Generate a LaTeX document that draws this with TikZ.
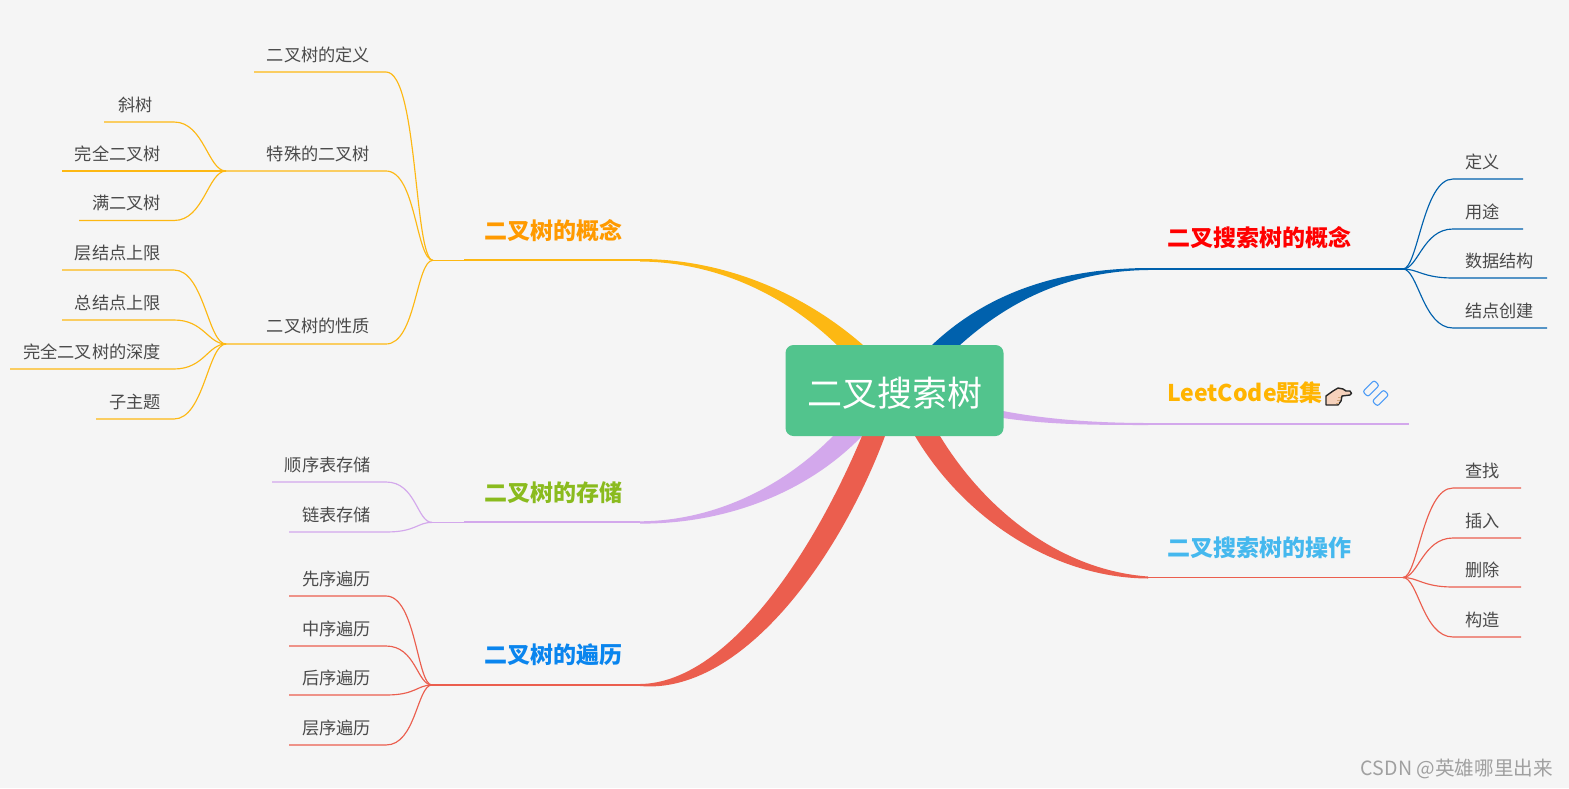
\documentclass[tikz,border=0pt]{standalone}
\usetikzlibrary{calc}
\usepackage{fontspec}
\setmainfont{Noto Sans CJK SC}
\definecolor{bgc}{HTML}{F5F5F5}
\definecolor{yel}{HTML}{FDB813}
\definecolor{blu}{HTML}{0061AD}
\definecolor{pur}{HTML}{D3A8EC}
\definecolor{redb}{HTML}{EB5E4E}
\definecolor{rootc}{HTML}{52C48D}
\definecolor{txt}{HTML}{4A4A4A}
\definecolor{hOrange}{HTML}{FF9A00}
\definecolor{hGreen}{HTML}{8ABB1E}
\definecolor{hBlue}{HTML}{0A85EE}
\definecolor{hRed}{HTML}{FF0000}
\definecolor{hGold}{HTML}{FFB400}
\definecolor{hCyan}{HTML}{45B8EE}
\definecolor{linkc}{HTML}{4C9BF5}
\definecolor{skin}{HTML}{F6D2BC}
\definecolor{wmc}{HTML}{A0A0A0}
\tikzset{
 x=1pt,y=-1pt,
 leaftext/.style={font=\fontsize{17.2}{20}\selectfont,text=txt,inner sep=0pt},
 headtext/.style={font=\fontsize{23}{26}\selectfont\bfseries,inner sep=0pt,anchor=base west},
 roottext/.style={font=\fontsize{35}{40}\selectfont,text=white,inner sep=0pt},
 twig/.style={line width=1.15pt},
 trunk/.style={line width=1.9pt},
}
\begin{document}
\begin{tikzpicture}
\fill[bgc] (0,0) rectangle (1569,788);
\useasboundingbox (0,0) rectangle (1569,788);
% ---- named anchor points
\coordinate (root) at (894,390);
\coordinate (ca) at (640,260.3); \coordinate (cb) at (640,522.4); \coordinate (cc) at (640,685);
\coordinate (cd) at (1148,269); \coordinate (ce) at (1148,424); \coordinate (cf) at (1148,577.5);
\coordinate (ta) at (464,260.3); \coordinate (tb) at (464,522.4); \coordinate (tc) at (464,685);
\coordinate (td) at (1372,269); \coordinate (te) at (1409,424); \coordinate (tf) at (1372,577.5);
\coordinate (ja) at (433,260.3); \coordinate (jb) at (432,522.4); \coordinate (jc) at (432,685);
\coordinate (jd) at (1403,269); \coordinate (jf) at (1403,577.5);
\coordinate (ja1) at (226,171); \coordinate (ja3) at (226,344);
% ---- thick tapered branches
\fill[yel] (640,259) .. controls (720,259) and (800,290) .. (863,345) -- (root) -- (837,345) .. controls (780,290) and (710,262) .. (640,261.5) -- cycle;
\fill[pur] (640,521.3) .. controls (710,521) and (780,490) .. (833,436) -- (root) -- (862,436) .. controls (810,490) and (730,524) .. (640,523.6) -- cycle;
\fill[redb] (640,684) .. controls (725,683) and (810,560) .. (862,436) -- (root) -- (885,436) .. controls (838,562) and (740,695) .. (640,686) -- cycle;
\fill[blu] (932,345) .. controls (985,295) and (1055,268.5) .. (1148,268) -- (1148,270) .. controls (1070,271) and (1010,300) .. (960,345) -- (root) -- cycle;
\fill[pur] (1003,411) .. controls (1050,420) and (1100,423) .. (1148,423) -- (1148,425) .. controls (1100,425) and (1050,425) .. (1003,418) -- (root) -- cycle;
\fill[redb] (940,436) .. controls (985,510) and (1060,570) .. (1148,576.5) -- (1148,578.5) .. controls (1055,578) and (965,520) .. (915,436) -- (root) -- cycle;
% ---- trunks
\draw[trunk,yel] (ca) -- (ta);
\draw[twig,yel] (ta) -- (ja);
\draw[trunk,pur] (cb) -- (tb);
\draw[twig,pur] (tb) -- (jb);
\draw[trunk,redb] (cc) -- (tc);
\draw[twig,redb] (tc) -- (jc);
\draw[trunk,blu] (cd) -- (td);
\draw[twig,blu] (td) -- (jd);
\draw[trunk,pur] (ce) -- (te);
\draw[trunk,redb] (cf) -- (tf);
\draw[twig,redb] (tf) -- (jf);
% ---- left: concept
\node[leaftext,anchor=base] (a1) at (318.5,61) {二叉树的定义};
\node[leaftext,anchor=base] (a2) at (318.5,160) {特殊的二叉树};
\node[leaftext,anchor=base] (a3) at (318.5,332) {二叉树的性质};
\coordinate (a1s) at (254,72); \coordinate (a1e) at (386,72);
\coordinate (a2s) at (254,171); \coordinate (a2e) at (386,171);
\coordinate (a3s) at (254,344); \coordinate (a3e) at (386,344);
\draw[twig,yel] (a1s) -- (a1e) .. controls (418,72) and (414,260) .. (ja);
\draw[twig,yel] (ja1) -- (a2s) -- (a2e) .. controls (416,171) and (416,260) .. (ja);
\draw[twig,yel] (ja3) -- (a3s) -- (a3e) .. controls (416,344) and (416,260) .. (ja);
\newcommand{\lf}[9]{% colour,name,startx,rightx,liney,text,joint,ctrl2 x,bend x
 \node[leaftext,anchor=base east] (#2) at (#4,#5-11) {#6};
 \coordinate (#2s) at (#3,#5);
 \coordinate (#2b) at (#9,#5);
 \draw[twig,#1] (#2s) -- (#2b) .. controls ($(#2b)+(30,0)$) and ($(#7)+(#8,0)$) .. (#7);
}
\lf{yel}{b1}{104}{153}{122}{斜树}{ja1}{-18}{174}
\lf{yel}{b2}{62}{161}{171}{完全二叉树}{ja1}{-18}{174}
\lf{yel}{b3}{79}{161}{220.5}{满二叉树}{ja1}{-18}{174}
\lf{yel}{c1}{62}{161}{270}{层结点上限}{ja3}{-18}{174}
\lf{yel}{c2}{62}{161}{320}{总结点上限}{ja3}{-18}{174}
\lf{yel}{c3}{10}{161}{369}{完全二叉树的深度}{ja3}{-18}{174}
\lf{yel}{c4}{96}{161}{419}{子主题}{ja3}{-18}{174}
% ---- left: storage
\lf{pur}{d1}{272}{371}{482}{顺序表存储}{jb}{-15}{386}
\lf{pur}{d2}{289}{371}{532}{链表存储}{jb}{-15}{386}
% ---- left: traversal
\lf{redb}{e1}{289}{371}{596}{先序遍历}{jc}{-15}{386}
\lf{redb}{e2}{289}{371}{646}{中序遍历}{jc}{-15}{386}
\lf{redb}{e3}{289}{371}{695}{后序遍历}{jc}{-15}{386}
\lf{redb}{e4}{289}{371}{745}{层序遍历}{jc}{-15}{386}
% ---- right leaves
\newcommand{\rf}[7]{% colour,name,endx,leftx,liney,text,joint
 \node[leaftext,anchor=base west] (#2) at (#4,#5-11) {#6};
 \coordinate (#2s) at (#3,#5);
 \coordinate (#2b) at (1453,#5);
 \draw[twig,#1] (#2s) -- (#2b) .. controls ($(#2b)+(-30,0)$) and ($(#7)+(15,0)$) .. (#7);
}
\rf{blu}{f1}{1523}{1465}{179}{定义}{jd}
\rf{blu}{f2}{1523}{1465}{229}{用途}{jd}
\rf{blu}{f3}{1547}{1465}{278}{数据结构}{jd}
\rf{blu}{f4}{1547}{1465}{328}{结点创建}{jd}
\rf{redb}{g1}{1521}{1465}{488}{查找}{jf}
\rf{redb}{g2}{1521}{1465}{538}{插入}{jf}
\rf{redb}{g3}{1521}{1465}{587}{删除}{jf}
\rf{redb}{g4}{1521}{1465}{637}{构造}{jf}
% ---- headings
\node[headtext,text=hOrange] (h1) at (484,239) {二叉树的概念};
\node[headtext,text=hGreen] (h2) at (484,501) {二叉树的存储};
\node[headtext,text=hBlue] (h3) at (484,663) {二叉树的遍历};
\node[headtext,text=hRed] (h4) at (1167,246) {二叉搜索树的概念};
\node[headtext,text=hGold] (h5) at (1167,401) {LeetCode题集};
\node[headtext,text=hCyan] (h6) at (1167,556) {二叉搜索树的操作};
% ---- root
\node[fill=rootc,rounded corners=8pt,minimum width=218pt,minimum height=91pt,inner sep=0pt] (r) at (894.5,390.5) {};
\node[roottext] (rt) at ($(r.center)+(0,2.5)$) {二叉搜索树};
% ---- hand icon
\draw[line width=1.4pt,draw=black!85,fill=skin,line join=round]
 (1326,396) -- (1333,391) -- (1338,388) -- (1343,389) -- (1346,391) -- (1350,391) .. controls (1352,392) and (1352,395) .. (1350,395) -- (1342,396) -- (1341,401) -- (1338,405) -- (1326,405) -- cycle;
\draw[line width=0.8pt,draw=brown!70] (1338,397) -- (1341,397) (1337,400) -- (1340,400) (1336,403) -- (1339,403);
% ---- link icon
\begin{scope}[shift={(1371,388.5)},rotate=45]
\draw[line width=1.1pt,draw=linkc,rounded corners=2.2pt] (-8,-3.6) rectangle (8,3.6);
\end{scope}
\begin{scope}[shift={(1380.5,398)},rotate=45]
\draw[line width=1.1pt,draw=linkc,rounded corners=2.2pt] (-8,-3.6) rectangle (8,3.6);
\end{scope}
% ---- watermark
\node[inner sep=0pt,anchor=base east,text=wmc,font=\fontsize{19.6}{22}\selectfont] (wm) at (1553,775) {CSDN @英雄哪里出来};
\end{tikzpicture}
\end{document}
